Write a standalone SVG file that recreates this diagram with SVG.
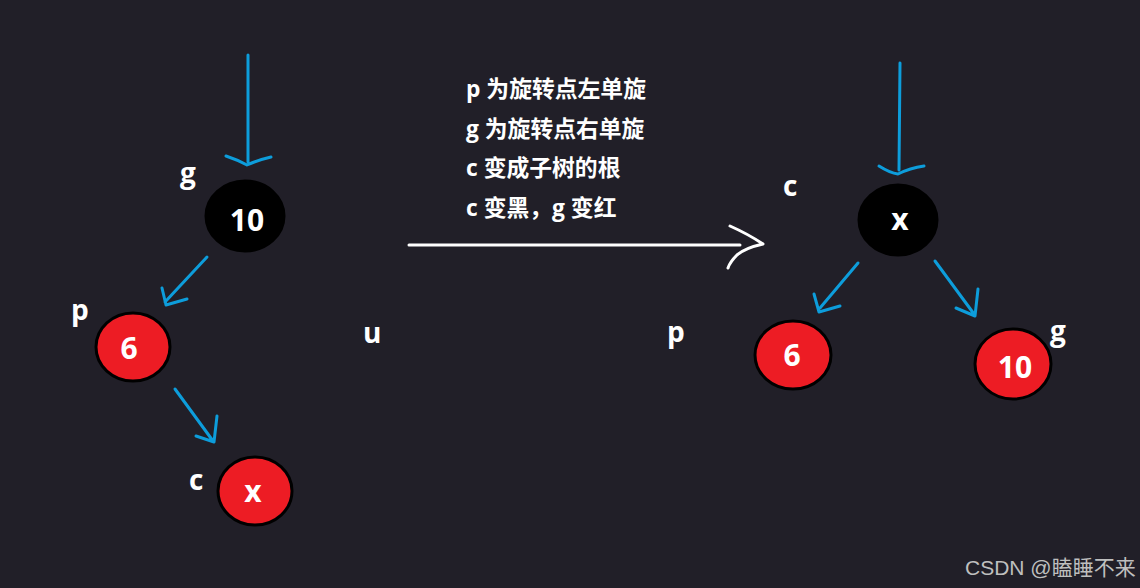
<svg xmlns="http://www.w3.org/2000/svg" width="1140" height="588" viewBox="0 0 1140 588">
<style>
.bg{fill:#211f28}
.blk{fill:#000;stroke:#000;stroke-width:3}
.red{fill:#ed1c24;stroke:#000;stroke-width:3}
.nt{font-family:"Open Sans","Noto Sans",sans-serif;font-weight:700;font-size:30px;fill:#fff;text-anchor:middle}
.lb{font-family:"Open Sans","Noto Sans",sans-serif;font-weight:700;font-size:28px;fill:#fff}
.tx{font-family:"Open Sans","Noto Sans CJK SC",sans-serif;font-weight:700;font-size:22.8px;fill:#fff}
.ed{fill:none;stroke:#0d9ddb;stroke-width:3;stroke-linecap:round;stroke-linejoin:round}
.wa{fill:none;stroke:#fff;stroke-width:3;stroke-linecap:round;stroke-linejoin:round}
.wm{font-family:"Liberation Sans","Noto Sans CJK SC",sans-serif;font-size:21px;fill:#bfbfbf}
</style>
<rect class="bg" x="0" y="0" width="1140" height="588"/>
<g id="connectors">
<path class="ed" d="M248 55 L248 162 M226 156 Q238 160 247 165 Q258 160 271 157"/>
<path class="ed" d="M207 257 L165 302 M162 288 L166 305 L187 299"/>
<path class="ed" d="M175 389 L213 441 M196 436 L214 442 L217 416"/>
<path class="ed" d="M900 63 L899 170 M879 166 Q890 173 898 174 Q910 168 924 166"/>
<path class="ed" d="M858 263 L820 308 M814 294 L819 312 L840 306"/>
<path class="ed" d="M935 261 L974 314 M956 308 L975 316 L978 289"/>
<path class="wa" d="M409 245 L740 245 M730 226 Q748 234 763 244 Q745 248 737 255 Q730 262 728 268"/>
</g>
<g id="node-g10">
<ellipse class="blk" cx="245" cy="216" rx="39" ry="35"/>
<text class="nt" x="247" y="231">10</text>
<text class="lb" x="180" y="183">g</text>
</g>
<g id="node-p6">
<ellipse class="red" cx="133" cy="347" rx="37" ry="34"/>
<text class="nt" x="129" y="359">6</text>
<text class="lb" x="71" y="320">p</text>
</g>
<g id="node-cx">
<ellipse class="red" cx="255" cy="491" rx="37" ry="34"/>
<text class="nt" x="253" y="502">x</text>
<text class="lb" x="189" y="490">c</text>
</g>
<g id="label-u">
<text class="lb" x="363" y="343">u</text>
</g>
<g id="notes">
<text class="tx" x="466" y="97">p 为旋转点左单旋</text>
<text class="tx" x="466" y="137">g 为旋转点右单旋</text>
<text class="tx" x="466" y="176">c 变成子树的根</text>
<text class="tx" x="466" y="216">c 变黑，g 变红</text>
</g>
<g id="node-rx">
<ellipse class="blk" cx="898" cy="220" rx="39" ry="35"/>
<text class="nt" x="900" y="230">x</text>
<text class="lb" x="783" y="196">c</text>
</g>
<g id="node-r6">
<ellipse class="red" cx="793" cy="355" rx="38" ry="34"/>
<text class="nt" x="792" y="366">6</text>
<text class="lb" x="667" y="342">p</text>
</g>
<g id="node-r10">
<ellipse class="red" cx="1013" cy="364" rx="38" ry="35"/>
<text class="nt" x="1015" y="378">10</text>
<text class="lb" x="1050" y="341">g</text>
</g>
<text class="wm" x="965" y="575">CSDN @瞌睡不来</text>
</svg>
